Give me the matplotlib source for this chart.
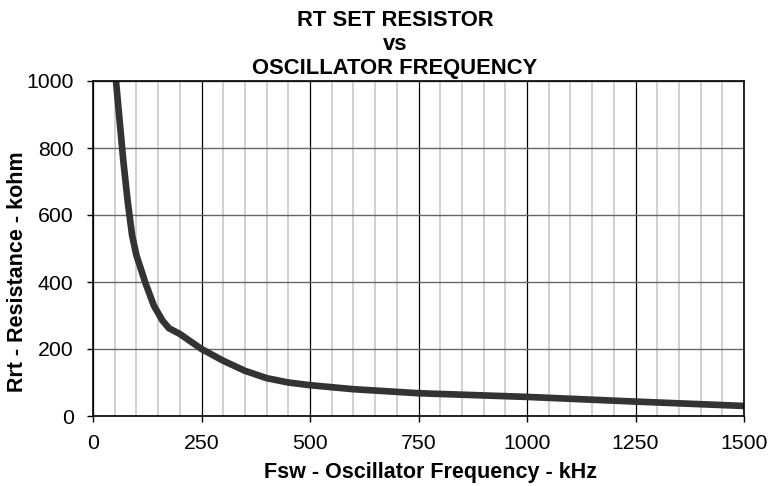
import matplotlib
matplotlib.use("Agg")
import matplotlib.pyplot as plt
from matplotlib.ticker import MultipleLocator

plt.rcParams['font.family'] = ['Liberation Sans', 'DejaVu Sans']

# curve
freq_khz = [53, 60, 70, 80, 90, 100, 120, 140, 160, 175, 200, 250, 300,
            350, 400, 450, 500, 600, 750, 1000, 1250, 1500]
rt_kohm = [1000, 900, 760, 640, 540, 480, 400, 330, 285, 262, 245, 200,
           165, 135, 113, 100, 92, 80, 68, 57, 43, 30]

x_ticks = [0, 250, 500, 750, 1000, 1250, 1500]
y_ticks = [0, 200, 400, 600, 800, 1000]

fig = plt.figure(figsize=(7.69, 4.86), dpi=100)
ax = fig.add_axes([93 / 769, 70 / 486, 651 / 769, 335 / 486])

ax.set_xlim(0, 1500)
ax.set_ylim(0, 1000)
ax.set_xticks(x_ticks)
ax.set_yticks(y_ticks)
ax.xaxis.set_minor_locator(MultipleLocator(50))

# grid: light minor verticals, black major verticals, grey horizontals
ax.grid(which='minor', axis='x', color='#c8c8c8', lw=1.2)
ax.grid(which='major', axis='x', color='black', lw=0.9)
ax.grid(which='major', axis='y', color='#666666', lw=1.0)
ax.set_axisbelow(True)
ax.tick_params(which='minor', length=0)
ax.tick_params(which='major', length=4, width=1, labelsize=15.3, color='black')
ax.tick_params(axis='y', pad=10)
ax.tick_params(axis='x', pad=9)

for s in ax.spines.values():
    s.set_color('black')
    s.set_linewidth(1.2)

ax.plot(freq_khz, rt_kohm, color='#333333', lw=4.8, solid_capstyle='round')

ax.set_xlabel('Fsw - Oscillator Frequency - kHz', fontsize=15.5, fontweight='bold')
ax.set_ylabel('Rrt - Resistance - kohm', fontsize=15.5, fontweight='bold')
# labels sit a bit off-centre in the original
ax.xaxis.set_label_coords(0.519, -0.138)
ax.yaxis.set_label_coords(-0.1, 0.43)
ax.set_title('RT SET RESISTOR\nvs\nOSCILLATOR FREQUENCY', fontsize=15.8,
             fontweight='bold', linespacing=1.18, pad=5, x=0.464)

fig.savefig('out.png', dpi=100)
